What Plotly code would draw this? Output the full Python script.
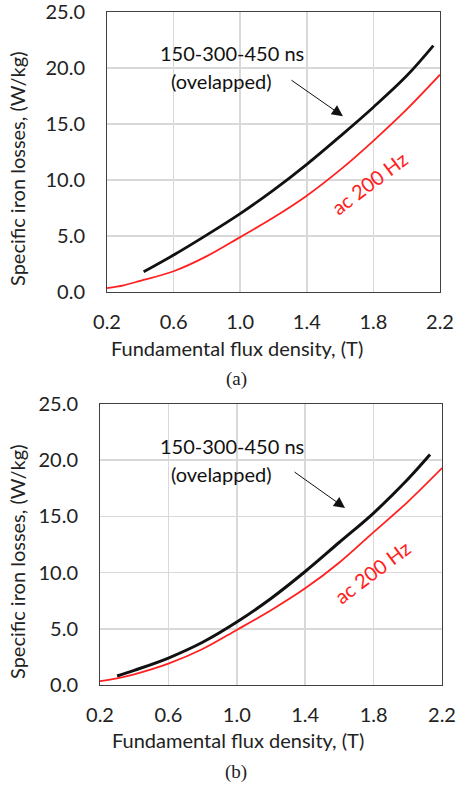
import plotly.graph_objects as go

W, H = 456, 785

# Panel (a)
black_a_x = [0.42, 0.6, 0.8, 1.0, 1.2, 1.4, 1.6, 1.8, 2.0, 2.16]
black_a_y = [1.8, 3.3, 5.1, 7.0, 9.1, 11.4, 13.9, 16.5, 19.3, 22.0]
red_a_x = [0.2, 0.3, 0.4, 0.6, 0.8, 1.0, 1.2, 1.4, 1.6, 1.8, 2.0, 2.2]
red_a_y = [0.35, 0.6, 1.0, 1.85, 3.2, 4.9, 6.65, 8.6, 10.9, 13.5, 16.3, 19.4]

# Panel (b)
black_b_x = [0.3, 0.4, 0.6, 0.8, 1.0, 1.2, 1.4, 1.6, 1.8, 2.0, 2.13]
black_b_y = [0.8, 1.3, 2.4, 3.8, 5.6, 7.7, 10.1, 12.7, 15.3, 18.3, 20.5]
red_b_x = [0.2, 0.3, 0.4, 0.6, 0.8, 1.0, 1.2, 1.4, 1.6, 1.8, 2.0, 2.2]
red_b_y = [0.35, 0.6, 0.95, 1.9, 3.2, 4.9, 6.65, 8.6, 10.9, 13.6, 16.3, 19.3]

x_ticks = [0.2, 0.6, 1.0, 1.4, 1.8, 2.2]
y_ticks = [0.0, 5.0, 10.0, 15.0, 20.0, 25.0]

x_title = "Fundamental flux density, (T)"
y_title = "Specific iron losses, (W/kg)"
label_ns1 = "150-300-450 ns"
label_ns2 = "(ovelapped)"
label_ac = "ac 200 Hz"

FONT = "Lato"
RED = "#ff2020"
FS = 20

fig = go.Figure()
fig.add_trace(go.Scatter(x=red_a_x, y=red_a_y, mode="lines", line=dict(color=RED, width=1.8, shape="spline"),
                         xaxis="x", yaxis="y", showlegend=False))
fig.add_trace(go.Scatter(x=black_a_x, y=black_a_y, mode="lines", line=dict(color="#111111", width=2.8, shape="spline"),
                         xaxis="x", yaxis="y", showlegend=False))
fig.add_trace(go.Scatter(x=red_b_x, y=red_b_y, mode="lines", line=dict(color=RED, width=1.8, shape="spline"),
                         xaxis="x2", yaxis="y2", showlegend=False))
fig.add_trace(go.Scatter(x=black_b_x, y=black_b_y, mode="lines", line=dict(color="#111111", width=3.0, shape="spline"),
                         xaxis="x2", yaxis="y2", showlegend=False))

def px_dom(a, b):
    return [a / W, b / W]

def py_dom(top, bottom):
    return [1 - bottom / H, 1 - top / H]

axis_common = dict(
    showgrid=True, gridcolor="#d9d9d9", gridwidth=1.5,
    showline=True, linecolor="#404040", linewidth=1, mirror=True,
    zeroline=False, ticks="", automargin=False, ticklabeloverflow="allow",
    tickfont=dict(family=FONT, size=FS, color="#222"),
)

# panel a: left 107, right 440, top 12, bottom 292 (window pixels)
# panel b: left 100, right 442, top 404, bottom 685
fig.update_layout(
    width=W, height=H, margin=dict(l=0, r=0, t=0, b=0),
    paper_bgcolor="white", plot_bgcolor="white",
    xaxis=dict(domain=px_dom(107, 440), range=[0.2, 2.2], tickvals=x_ticks,
               ticktext=[f"{v:.1f}" for v in x_ticks], anchor="y", ticklabelstandoff=12, **axis_common),
    yaxis=dict(domain=py_dom(12, 292), range=[0, 25], tickvals=y_ticks,
               ticktext=[f"{v:.1f}" for v in y_ticks], anchor="x", ticklabelstandoff=17, **axis_common),
    xaxis2=dict(domain=px_dom(100, 442), range=[0.2, 2.2], tickvals=x_ticks,
                ticktext=[f"{v:.1f}" for v in x_ticks], anchor="y2", ticklabelstandoff=12, **axis_common),
    yaxis2=dict(domain=py_dom(404, 685), range=[0, 25], tickvals=y_ticks,
                ticktext=[f"{v:.1f}" for v in y_ticks], anchor="x2", ticklabelstandoff=17, **axis_common),
)

ann = []
def pann(text, px, py, size=FS, color="#222", angle=0, family=FONT):
    ann.append(dict(text=text, x=px / W, y=1 - py / H, xref="paper", yref="paper",
                    showarrow=False, xanchor="center", yanchor="middle", textangle=angle,
                    font=dict(family=family, size=size, color=color)))

# axis titles
pann(x_title, 237, 348)
pann(y_title, 17, 169, angle=-90)
pann(x_title, 238, 740)
pann(y_title, 17, 562, angle=-90)
# captions
pann("(a)", 236, 379, size=19, family="Liberation Serif")
pann("(b)", 236, 772, size=19, family="Liberation Serif")

# text labels in data coords
for xr, yr, xs in [("x", "y", [(0.951, 21.34), (0.885, 18.84), (1.774, 9.73)]),
                   ("x2", "y2", [(0.972, 21.26), (0.908, 18.77), (1.791, 10.05)])]:
    for txt, (xx, yy), col, ang in zip([label_ns1, label_ns2, label_ac], xs, ["#111", "#111", RED], [0, 0, -37]):
        ann.append(dict(text=txt, x=xx, y=yy, xref=xr, yref=yr, showarrow=False, textangle=ang,
                        xanchor="center", yanchor="middle", font=dict(family=FONT, size=FS, color=col)))

# arrows
ann.append(dict(x=1.617, y=15.7, xref="x", yref="y", ax=-53, ay=-37, showarrow=True,
                arrowhead=2, arrowsize=2.2, arrowwidth=1, arrowcolor="#111", text=""))
ann.append(dict(x=1.633, y=15.75, xref="x2", yref="y2", ax=-52, ay=-37, showarrow=True,
                arrowhead=2, arrowsize=2.2, arrowwidth=1, arrowcolor="#111", text=""))

fig.update_layout(annotations=ann, hovermode=False)
fig.write_html("out.html", config={"displayModeBar": False, "staticPlot": True},
               post_script="document.body.style.margin='0';document.body.style.overflow='hidden';")
